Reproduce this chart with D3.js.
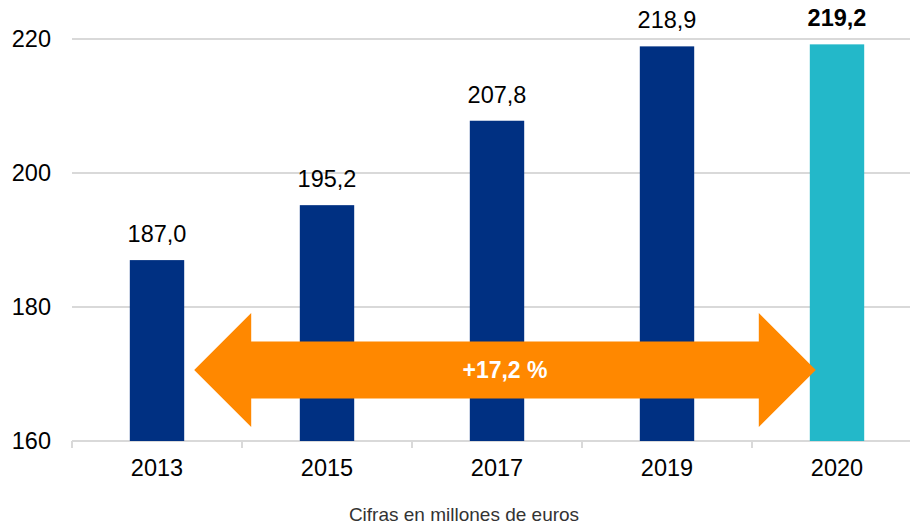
<!DOCTYPE html>
<html>
<head>
<meta charset="utf-8">
<script src="https://cdn.jsdelivr.net/npm/d3@7"></script>
<style>
  body { margin: 0; background: #fff; }
  text { font-family: "Liberation Sans", Arial, sans-serif; }
</style>
</head>
<body>
<script>
var years = ["2013", "2015", "2017", "2019", "2020"];
var values = [187.0, 195.2, 207.8, 218.9, 219.2];
var labels = ["187,0", "195,2", "207,8", "218,9", "219,2"];
var yTicks = [160, 180, 200, 220];
var growthLabel = "+17,2 %";
var footnote = "Cifras en millones de euros";

var width = 910, height = 524;
var fs = 23.5;

var svg = d3.select("body").append("svg")
  .attr("width", width)
  .attr("height", height);

var x = d3.scaleBand()
  .domain(years)
  .range([72, 922])
  .paddingInner(0.68)
  .paddingOuter(0.34);

var y = d3.scaleLinear()
  .domain([160, 220])
  .range([441, 39]);

// gridlines
svg.append("g")
  .selectAll("line")
  .data(yTicks)
  .enter().append("line")
  .attr("x1", 72)
  .attr("x2", width)
  .attr("y1", d => y(d))
  .attr("y2", d => y(d))
  .attr("stroke", "#d9d9d9")
  .attr("stroke-width", 2);

// y labels
svg.append("g")
  .selectAll("text")
  .data(yTicks)
  .enter().append("text")
  .attr("x", 51)
  .attr("y", d => y(d))
  .attr("dy", "0.35em")
  .attr("text-anchor", "end")
  .attr("font-size", fs)
  .attr("fill", "#000")
  .text(d => d);

// x tick marks at band boundaries
var step = x.step();
var bounds = years.map((d, i) => 72 + i * step);
svg.append("g")
  .selectAll("line")
  .data(bounds)
  .enter().append("line")
  .attr("x1", d => d)
  .attr("x2", d => d)
  .attr("y1", y(160))
  .attr("y2", y(160) + 7)
  .attr("stroke", "#d9d9d9")
  .attr("stroke-width", 2);

// bars
svg.append("g")
  .selectAll("rect")
  .data(years)
  .enter().append("rect")
  .attr("x", d => x(d))
  .attr("width", x.bandwidth())
  .attr("y", (d, i) => y(values[i]))
  .attr("height", (d, i) => y(160) - y(values[i]))
  .attr("fill", (d, i) => i === years.length - 1 ? "#23b8c9" : "#003082");

// value labels
svg.append("g")
  .selectAll("text")
  .data(years)
  .enter().append("text")
  .attr("x", d => x(d) + x.bandwidth() / 2)
  .attr("y", (d, i) => y(values[i]) - 18)
  .attr("text-anchor", "middle")
  .attr("font-size", fs)
  .attr("font-weight", (d, i) => i === years.length - 1 ? "bold" : "normal")
  .attr("fill", "#000")
  .text((d, i) => labels[i]);

// x labels
svg.append("g")
  .selectAll("text")
  .data(years)
  .enter().append("text")
  .attr("x", d => x(d) + x.bandwidth() / 2)
  .attr("y", 476)
  .attr("text-anchor", "middle")
  .attr("font-size", fs)
  .attr("fill", "#000")
  .text(d => d);

// double arrow
var left = x(years[0]) + x.bandwidth() + 10;
var right = x(years[years.length - 1]) + 6;
var cy = 370, headW = 57, headH = 57, shaftH = 28.5;
var pts = [
  [left, cy],
  [left + headW, cy - headH],
  [left + headW, cy - shaftH],
  [right - headW, cy - shaftH],
  [right - headW, cy - headH],
  [right, cy],
  [right - headW, cy + headH],
  [right - headW, cy + shaftH],
  [left + headW, cy + shaftH],
  [left + headW, cy + headH]
];
svg.append("polygon")
  .attr("points", pts.map(p => p.join(",")).join(" "))
  .attr("fill", "#ff8800");

svg.append("text")
  .attr("x", (left + right) / 2)
  .attr("y", cy)
  .attr("dy", "0.35em")
  .attr("text-anchor", "middle")
  .attr("font-size", 23)
  .attr("font-weight", "bold")
  .attr("fill", "#fff")
  .text(growthLabel);

svg.append("text")
  .attr("x", 464)
  .attr("y", 514)
  .attr("dy", "0.35em")
  .attr("text-anchor", "middle")
  .attr("font-size", 19)
  .attr("fill", "#333")
  .text(footnote);
</script>
</body>
</html>
